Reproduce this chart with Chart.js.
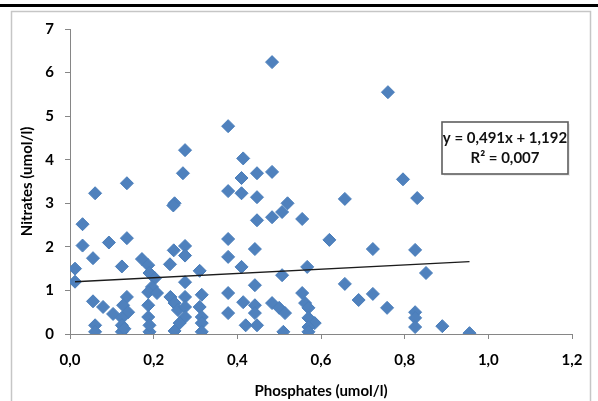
<!DOCTYPE html>
<html>
<head>
<meta charset="utf-8">
<script src="https://cdn.jsdelivr.net/npm/chart.js@4.4.0/dist/chart.umd.min.js"></script>
<style>
  html, body { margin: 0; padding: 0; background: #fff; }
  #wrap { width: 598px; height: 401px; }
</style>
</head>
<body>
<div id="wrap"><canvas id="c" width="598" height="401"></canvas></div>
<script>
// Phosphate (x) and nitrate (y) concentrations, one entry per sample
const phosphates = [
  0.012, 0.012, 0.030, 0.030, 0.060, 0.055, 0.055, 0.060, 0.060, 0.079,
  0.093, 0.103, 0.124, 0.136, 0.136, 0.136, 0.127, 0.139, 0.124, 0.124,
  0.124, 0.130, 0.172, 0.187, 0.190, 0.203, 0.196, 0.187, 0.208, 0.187,
  0.187, 0.190, 0.190, 0.250, 0.247, 0.270, 0.275, 0.248, 0.275, 0.275,
  0.239, 0.275, 0.240, 0.250, 0.258, 0.275, 0.275, 0.275, 0.250, 0.262,
  0.310, 0.315, 0.310, 0.315, 0.315, 0.315, 0.378, 0.378, 0.378, 0.378,
  0.378, 0.378, 0.414, 0.410, 0.410, 0.410, 0.414, 0.420, 0.447, 0.447,
  0.447, 0.442, 0.442, 0.442, 0.442, 0.447, 0.483, 0.483, 0.483, 0.483,
  0.520, 0.507, 0.507, 0.500, 0.514, 0.510, 0.555, 0.567, 0.555, 0.562,
  0.570, 0.570, 0.585, 0.570, 0.570, 0.620, 0.657, 0.657, 0.690, 0.724,
  0.724, 0.760, 0.758, 0.796, 0.830, 0.825, 0.825, 0.825, 0.825, 0.851,
  0.890, 0.955
];
const nitrates = [
  1.50, 1.20, 2.52, 2.03, 3.23, 1.74, 0.75, 0.20, 0.05, 0.62,
  2.10, 0.46, 1.55, 3.46, 2.20, 0.85, 0.66, 0.50, 0.37, 0.20,
  0.05, 0.12, 1.72, 1.58, 1.40, 1.28, 1.08, 0.96, 0.94, 0.66,
  0.39, 0.05, 0.20, 3.00, 2.95, 3.69, 4.22, 1.92, 2.02, 1.80,
  1.60, 1.19, 0.85, 0.71, 0.55, 0.85, 0.62, 0.39, 0.07, 0.25,
  1.45, 0.90, 0.62, 0.39, 0.25, 0.05, 4.77, 3.28, 2.18, 1.77,
  0.94, 0.48, 4.03, 3.58, 3.23, 1.54, 0.73, 0.20, 3.69, 3.14,
  2.61, 1.95, 1.12, 0.66, 0.48, 0.20, 6.24, 3.72, 2.68, 0.71,
  3.00, 2.80, 1.35, 0.60, 0.48, 0.05, 2.64, 1.54, 0.94, 0.71,
  0.60, 0.37, 0.25, 0.16, 0.05, 2.16, 3.10, 1.15, 0.78, 1.95,
  0.92, 5.55, 0.60, 3.55, 3.12, 1.93, 0.50, 0.37, 0.16, 1.40,
  0.18, 0.02
];

// Linear trend reported on the chart
const trendSlope = 0.491;
const trendIntercept = 1.192;
const trendLabel = ['y = 0,491x + 1,192', 'R\u00B2 = 0,007'];

// Axis ranges and titles
const xRange = [0, 1.2, 0.2];
const yRange = [0, 7, 1];
const xTitle = 'Phosphates (umol/l)';
const yTitle = 'Nitrates (umol/l)';

const points = phosphates.map((p, i) => ({ x: p, y: nitrates[i] }));
const xMin = Math.min(...phosphates);
const xMax = Math.max(...phosphates);
const trendPoints = [xMin, xMax].map(x => ({ x, y: trendSlope * x + trendIntercept }));

const FONT = 'Lato, "Open Sans", "DejaVu Sans", sans-serif';
const AXIS_GREY = '#868686';

// Page rule, outer frame and the equation box
const decorations = {
  id: 'decorations',
  beforeDraw(chart) {
    const { ctx, width, height } = chart;
    ctx.save();
    ctx.fillStyle = '#fff';
    ctx.fillRect(0, 0, width, height);
    ctx.fillStyle = '#000';
    ctx.fillRect(0, 4, width, 3);
    ctx.strokeStyle = '#c6c6c6';
    ctx.lineWidth = 1.5;
    ctx.strokeRect(11.5, 11.5, width - 19, height + 20);
    ctx.restore();
  },
  afterDraw(chart) {
    const { ctx, chartArea } = chart;
    const bx = chartArea.right - 130, by = chartArea.top + 93, bw = 126, bh = 52;
    ctx.save();
    ctx.fillStyle = 'rgba(0,0,0,0.07)';
    ctx.fillRect(bx + 2, by + 2, bw, bh);
    ctx.fillStyle = '#fff';
    ctx.fillRect(bx, by, bw, bh);
    ctx.strokeStyle = '#5e5e5e';
    ctx.lineWidth = 1.6;
    ctx.strokeRect(bx, by, bw, bh);
    ctx.fillStyle = '#111';
    ctx.font = 'bold 15px ' + FONT;
    ctx.textAlign = 'center';
    ctx.textBaseline = 'middle';
    ctx.fillText(trendLabel[0], bx + bw / 2, by + 16);
    ctx.fillText(trendLabel[1], bx + bw / 2, by + 36);
    ctx.restore();
  }
};

const tickFont = { family: FONT, size: 15, weight: 'bold' };

new Chart(document.getElementById('c'), {
  type: 'scatter',
  data: {
    datasets: [
      {
        label: 'trend',
        data: trendPoints,
        showLine: true,
        borderColor: '#1c1c1c',
        borderWidth: 1.4,
        pointRadius: 0,
        fill: false
      },
      {
        label: 'samples',
        data: points,
        pointStyle: 'rectRot',
        pointRadius: 6.5,
        backgroundColor: '#4F81BD',
        borderColor: '#4A7EBB',
        borderWidth: 1
      }
    ]
  },
  options: {
    responsive: false,
    animation: false,
    devicePixelRatio: 1,
    layout: { padding: { left: 12, right: 26, top: 29, bottom: 0 } },
    plugins: { legend: { display: false }, tooltip: { enabled: false } },
    scales: {
      x: {
        type: 'linear',
        min: xRange[0], max: xRange[1],
        ticks: {
          stepSize: xRange[2],
          color: '#000',
          font: tickFont,
          padding: 12,
          maxRotation: 0,
          callback: v => v.toFixed(1).replace('.', ',')
        },
        grid: { drawOnChartArea: false, tickLength: 5, tickColor: AXIS_GREY },
        border: { color: AXIS_GREY, width: 1 },
        title: {
          display: true, text: xTitle, color: '#000',
          font: tickFont, padding: { top: 0, bottom: 1 }
        },
        afterFit(scale) { scale.height = 67; }
      },
      y: {
        min: yRange[0], max: yRange[1],
        ticks: {
          stepSize: yRange[2],
          color: '#000',
          font: tickFont,
          padding: 11
        },
        grid: { drawOnChartArea: false, tickLength: 5, tickColor: AXIS_GREY },
        border: { color: AXIS_GREY, width: 1 },
        title: {
          display: true, text: yTitle, color: '#000',
          font: tickFont, padding: { top: 6, bottom: 0 }
        },
        afterFit(scale) { scale.width = 58; }
      }
    }
  },
  plugins: [decorations]
});
</script>
</body>
</html>
